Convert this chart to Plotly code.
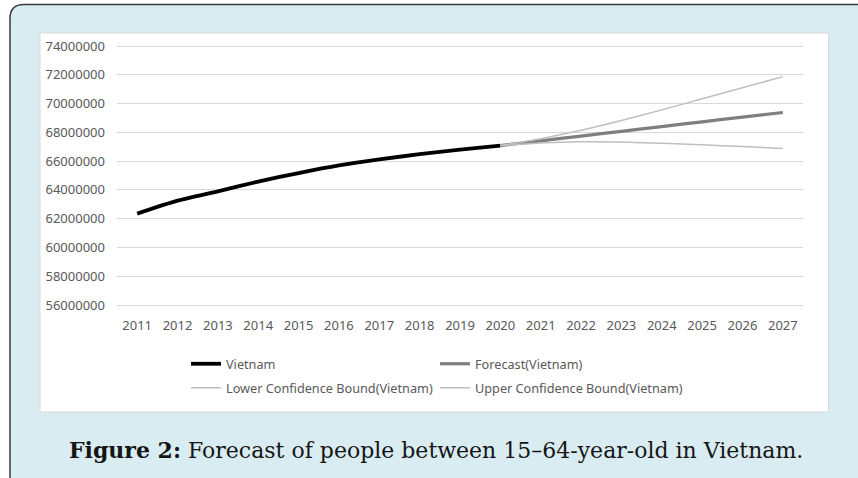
import plotly.graph_objects as go

# ---- data ----
years = ["2011", "2012", "2013", "2014", "2015", "2016", "2017", "2018", "2019",
         "2020", "2021", "2022", "2023", "2024", "2025", "2026", "2027"]
hist_years = years[:10]
fc_years = years[9:]
vietnam = [62350000, 63250000, 63900000, 64580000, 65170000, 65700000,
           66120000, 66480000, 66800000, 67080000]
forecast = [67080000, 67410000, 67740000, 68070000, 68400000, 68730000,
            69060000, 69380000]
lower = [67080000, 67260000, 67340000, 67320000, 67240000, 67130000,
         67020000, 66870000]
upper = [67080000, 67560000, 68140000, 68820000, 69560000, 70330000,
         71100000, 71870000]
y_ticks = [56000000, 58000000, 60000000, 62000000, 64000000, 66000000,
           68000000, 70000000, 72000000, 74000000]
caption = "<b>Figure 2:</b> Forecast of people between 15\u201364-year-old in Vietnam."

W, H = 858, 478
ML, MR, MT, MB = 117, 55, 45, 173
PW, PH = W - ML - MR, H - MT - MB


def xp(px):
    return (px - ML) / PW


def yp(py):
    return (H - MB - py) / PH


def rounded_path(x0, y0, x1, y1, r):
    pts = [
        ("M", (x0 + r, y0)), ("L", (x1 - r, y0)), ("Q", (x1, y0), (x1, y0 + r)),
        ("L", (x1, y1 - r)), ("Q", (x1, y1), (x1 - r, y1)),
        ("L", (x0 + r, y1)), ("Q", (x0, y1), (x0, y1 - r)),
        ("L", (x0, y0 + r)), ("Q", (x0, y0), (x0 + r, y0)),
    ]
    s = ""
    for cmd, *ps in pts:
        s += cmd + " " + " ".join(f"{xp(a):.5f},{yp(b):.5f}" for a, b in ps) + " "
    return s + "Z"


gray_txt = "#595959"
fig = go.Figure()
fig.add_trace(go.Scatter(x=hist_years, y=vietnam, name="Vietnam", mode="lines", legend="legend",
                         line=dict(color="#000000", width=3.8, shape="spline", smoothing=0.6)))
fig.add_trace(go.Scatter(x=fc_years, y=forecast, name="Forecast(Vietnam)", mode="lines", legend="legend",
                         line=dict(color="#7f7f7f", width=3.2, shape="spline", smoothing=0.6)))
fig.add_trace(go.Scatter(x=fc_years, y=lower, name="Lower Confidence Bound(Vietnam)", mode="lines",
                         legend="legend2",
                         line=dict(color="#bfbfbf", width=1.5, shape="spline", smoothing=0.6)))
fig.add_trace(go.Scatter(x=fc_years, y=upper, name="Upper Confidence Bound(Vietnam)", mode="lines",
                         legend="legend2",
                         line=dict(color="#bfbfbf", width=1.5, shape="spline", smoothing=0.6)))

shapes = [
    dict(type="path", xref="paper", yref="paper", layer="below",
         path=rounded_path(10, 4.5, 880, 492, 14),
         fillcolor="#d9ecf1", line=dict(color="#3a3a3a", width=1.5)),
    dict(type="rect", xref="paper", yref="paper", layer="below",
         x0=xp(40), x1=xp(828.5), y0=yp(412), y1=yp(33),
         fillcolor="#ffffff", line=dict(color="#d9d9d9", width=1)),
]

legend_common = dict(orientation="h", xanchor="left", yanchor="middle",
                     entrywidth=204, entrywidthmode="pixels",
                     font=dict(family="Noto Sans", size=12.7, color=gray_txt),
                     bgcolor="rgba(0,0,0,0)", traceorder="normal", itemwidth=30)

fig.update_layout(
    width=W, height=H,
    margin=dict(l=ML, r=MR, t=MT, b=MB, pad=0),
    paper_bgcolor="#ffffff",
    plot_bgcolor="rgba(0,0,0,0)",
    shapes=shapes,
    showlegend=True,
    legend=dict(x=xp(186), y=yp(364), **legend_common),
    legend2=dict(x=xp(186), y=yp(388), **legend_common),
    annotations=[dict(xref="paper", yref="paper", x=xp(436), y=yp(450),
                      xanchor="center", yanchor="middle", showarrow=False,
                      text=caption,
                      font=dict(family="DejaVu Serif", size=22, color="#151515"))],
    xaxis=dict(type="category", range=[-0.5, 16.5], showgrid=False, zeroline=False,
               showline=True, linecolor="#d9d9d9", linewidth=1, ticks="",
               ticklabelstandoff=8,
               tickfont=dict(family="Noto Sans", size=13, color=gray_txt),
               fixedrange=True),
    yaxis=dict(range=[56000000, 74070000], tickvals=y_ticks,
               ticktext=[str(v) for v in y_ticks],
               showgrid=True, gridcolor="#d9d9d9", gridwidth=1, zeroline=False,
               showline=False, ticks="", ticklabelstandoff=11,
               tickfont=dict(family="Noto Sans", size=13, color=gray_txt),
               fixedrange=True),
)

fig.write_html("out.html")
